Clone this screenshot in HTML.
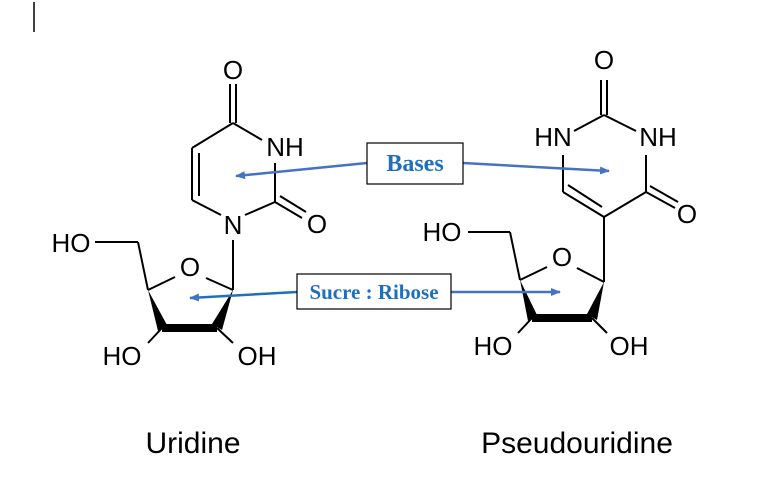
<!DOCTYPE html>
<html><head><meta charset="utf-8"><style>
html,body{margin:0;padding:0;background:#fff;}
svg{display:block;}
.a{font-family:"Liberation Sans",sans-serif;font-size:26px;fill:#000;text-anchor:middle;dominant-baseline:central;}
.b{font-family:"Liberation Serif",serif;font-weight:bold;fill:#1f6fbf;text-anchor:middle;dominant-baseline:central;}
.t{font-family:"Liberation Sans",sans-serif;font-size:30px;fill:#000;text-anchor:middle;}
line,polyline{stroke:#000;stroke-width:2;fill:none;}
</style></head><body>
<svg width="764" height="503" viewBox="0 0 764 503">
<defs><marker id="ar" markerWidth="10" markerHeight="8" refX="9" refY="4" orient="auto" markerUnits="userSpaceOnUse"><path d="M0,0 L10,4 L0,8 z" fill="#4472c4"/></marker></defs>
<line x1="34" y1="2" x2="34" y2="32" style="stroke-width:1.5"/>
<!-- Uridine -->
<line x1="230" y1="84" x2="230" y2="123"/><line x1="236" y1="84" x2="236" y2="123"/>
<line x1="233" y1="123" x2="262" y2="140"/>
<line x1="233" y1="123" x2="192" y2="148"/>
<line x1="192" y1="148" x2="192" y2="200"/>
<line x1="199" y1="153" x2="199" y2="196"/>
<line x1="192" y1="200" x2="221" y2="215"/>
<line x1="245" y1="215" x2="275" y2="202"/>
<line x1="275" y1="163" x2="275" y2="202"/>
<line x1="275" y1="202" x2="302" y2="218"/><line x1="280" y1="196" x2="306" y2="212"/>
<line x1="233" y1="240" x2="233" y2="290"/>
<line x1="233" y1="290" x2="206" y2="278"/>
<line x1="148" y1="290" x2="175" y2="277"/>
<line x1="148" y1="290" x2="138" y2="242"/>
<line x1="138" y1="242" x2="95" y2="242"/>
<polygon points="148,290 158,331 167,325"/>
<polygon points="233,290 212,324 222,330"/>
<line x1="162" y1="328" x2="217" y2="328" style="stroke-width:8"/>
<line x1="162" y1="328" x2="148" y2="343"/>
<line x1="217" y1="328" x2="233" y2="343"/>
<text class="a" x="233" y="70">O</text>
<text class="a" x="285" y="147">NH</text>
<text class="a" x="233" y="225">N</text>
<text class="a" x="317" y="224">O</text>
<text class="a" x="190" y="267">O</text>
<text class="a" x="71" y="243">HO</text>
<text class="a" x="122" y="356">HO</text>
<text class="a" x="257" y="356">OH</text>
<!-- Pseudouridine -->
<line x1="601" y1="80" x2="601" y2="115"/><line x1="607" y1="80" x2="607" y2="115"/>
<line x1="604" y1="115" x2="574" y2="131"/>
<line x1="604" y1="115" x2="636" y2="131"/>
<line x1="563" y1="155" x2="563" y2="192"/>
<line x1="646" y1="155" x2="646" y2="192"/>
<line x1="563" y1="192" x2="604" y2="217"/>
<line x1="568" y1="185" x2="602" y2="207"/>
<line x1="646" y1="192" x2="604" y2="217"/>
<line x1="646" y1="192" x2="675" y2="208"/><line x1="650" y1="186" x2="678" y2="202"/>
<line x1="604" y1="217" x2="604" y2="282"/>
<line x1="604" y1="282" x2="577" y2="268"/>
<line x1="520" y1="280" x2="547" y2="267"/>
<line x1="520" y1="280" x2="510" y2="232"/>
<line x1="510" y1="232" x2="468" y2="232"/>
<polygon points="520,280 528,321 537,315"/>
<polygon points="604,282 587,314 597,320"/>
<line x1="532" y1="318" x2="592" y2="318" style="stroke-width:8"/>
<line x1="532" y1="318" x2="518" y2="333"/>
<line x1="592" y1="318" x2="607" y2="333"/>
<text class="a" x="604" y="60">O</text>
<text class="a" x="553" y="137">HN</text>
<text class="a" x="658" y="137">NH</text>
<text class="a" x="687" y="214">O</text>
<text class="a" x="562" y="257">O</text>
<text class="a" x="442" y="232">HO</text>
<text class="a" x="493" y="346">HO</text>
<text class="a" x="629" y="346">OH</text>
<!-- boxes & arrows -->
<line x1="367" y1="163" x2="236" y2="176" style="stroke:#4472c4;stroke-width:2.5" marker-end="url(#ar)"/>
<line x1="463" y1="163" x2="609" y2="171" style="stroke:#4472c4;stroke-width:2.5" marker-end="url(#ar)"/>
<line x1="297" y1="292" x2="190" y2="298" style="stroke:#1f6fbf;stroke-width:2.5" marker-end="url(#ar)"/>
<line x1="451" y1="292" x2="560" y2="292" style="stroke:#4472c4;stroke-width:2.5" marker-end="url(#ar)"/>
<rect x="367" y="143" width="96" height="41" fill="#fff" stroke="#000" stroke-width="1.2"/>
<text class="b" x="415" y="164" font-size="24">Bases</text>
<rect x="297" y="274" width="154" height="35" fill="#fff" stroke="#000" stroke-width="1.2"/>
<text class="b" x="374" y="292" font-size="21">Sucre : Ribose</text>
<text class="t" x="193" y="453">Uridine</text>
<text class="t" x="577" y="453">Pseudouridine</text>
</svg>
</body></html>
